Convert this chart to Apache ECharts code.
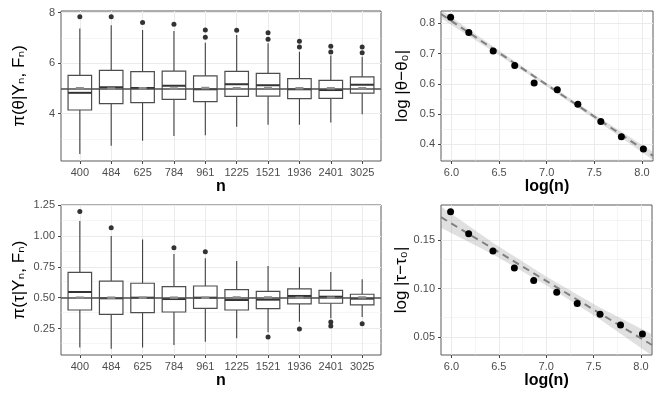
<!DOCTYPE html>
<html>
<head>
<meta charset="utf-8">
<script src="https://cdn.jsdelivr.net/npm/echarts@6/dist/echarts.min.js"></script>
<style>
  html, body { margin: 0; padding: 0; background: #fff; }
  #main { width: 664px; height: 399px; }
</style>
</head>
<body>
<div id="main"></div>
<script>
// sample sizes (categories) and log(n)
var nList = ['400', '484', '625', '784', '961', '1225', '1521', '1936', '2401', '3025'];
var catPos = [1, 2, 3, 4, 5, 6, 7, 8, 9, 10];
var logN = [5.991, 6.182, 6.438, 6.664, 6.868, 7.111, 7.327, 7.568, 7.784, 8.015];

// theta posterior boxplots
var thetaLow  = [2.40, 2.72, 2.92, 3.11, 3.14, 3.48, 3.56, 3.56, 3.64, 3.97];
var thetaQ1   = [4.14, 4.39, 4.43, 4.56, 4.47, 4.68, 4.69, 4.59, 4.60, 4.81];
var thetaMed  = [4.82, 5.04, 5.01, 5.10, 4.96, 5.16, 5.12, 4.96, 4.93, 5.14];
var thetaQ3   = [5.51, 5.71, 5.66, 5.68, 5.49, 5.67, 5.59, 5.38, 5.31, 5.45];
var thetaHigh = [7.37, 7.50, 7.31, 7.27, 6.80, 7.11, 6.78, 6.45, 6.30, 6.25];
var thetaMean = [5.00, 4.99, 5.00, 4.99, 5.01, 5.00, 5.01, 5.00, 5.00, 5.00];
var thetaOut  = [[1, 7.83], [2, 7.83], [3, 7.60], [4, 7.54], [5, 7.31], [5, 7.02], [6, 7.30],
                 [7, 7.20], [7, 6.94], [8, 6.86], [8, 6.63], [9, 6.66], [9, 6.44], [10, 6.63], [10, 6.41]];
var theta0 = 5;

// tau posterior boxplots
var tauLow  = [0.095, 0.086, 0.095, 0.116, 0.143, 0.170, 0.219, 0.305, 0.333, 0.343];
var tauQ1   = [0.400, 0.365, 0.378, 0.384, 0.414, 0.400, 0.411, 0.449, 0.455, 0.441];
var tauMed  = [0.546, 0.495, 0.500, 0.489, 0.500, 0.481, 0.484, 0.514, 0.508, 0.492];
var tauQ3   = [0.706, 0.635, 0.617, 0.589, 0.595, 0.565, 0.552, 0.571, 0.560, 0.528];
var tauHigh = [1.122, 1.000, 0.973, 0.854, 0.819, 0.798, 0.757, 0.746, 0.708, 0.649];
var tauMean = [0.500, 0.500, 0.500, 0.500, 0.500, 0.502, 0.502, 0.500, 0.500, 0.502];
var tauOut  = [[1, 1.200], [2, 1.068], [4, 0.905], [5, 0.873], [7, 0.181], [8, 0.246],
               [9, 0.303], [9, 0.271], [10, 0.289]];
var tau0 = 0.5;

// log |error| vs log(n)
var thetaErr = [0.820, 0.770, 0.709, 0.661, 0.603, 0.581, 0.533, 0.476, 0.425, 0.385];
var tauErr   = [0.1790, 0.1565, 0.1386, 0.1212, 0.1082, 0.0962, 0.0846, 0.0736, 0.0623, 0.0531];

// fitted lines + confidence bands
var fitX = [5.89, 8.116];
var thetaFit = [0.831, 0.362];
var tauFit = [0.1735, 0.0418];
var bandX = [5.89, 6.45, 7.0, 7.55, 8.116];
var thetaBandHi = [0.845, 0.721, 0.603, 0.489, 0.376];
var thetaBandLo = [0.817, 0.705, 0.591, 0.473, 0.348];
var tauBandHi = [0.1845, 0.1464, 0.1123, 0.0813, 0.0528];
var tauBandLo = [0.1625, 0.1344, 0.1033, 0.0693, 0.0308];

// tick labels
var thetaTicks = [4, 6, 8];
var thetaMinor = [3, 5, 7];
var tauTicks = [0.25, 0.5, 0.75, 1.0, 1.25];
var tauMinor = [0.125, 0.375, 0.625, 0.875, 1.125];
var logTicks = [6.0, 6.5, 7.0, 7.5, 8.0];
var logMinor = [6.25, 6.75, 7.25, 7.75];
var thetaErrTicks = [0.4, 0.5, 0.6, 0.7, 0.8];
var thetaErrMinor = [0.35, 0.45, 0.55, 0.65, 0.75];
var tauErrTicks = [0.05, 0.10, 0.15];
var tauErrMinor = [0.075, 0.125, 0.175];

var FONT = '"Liberation Sans", "DejaVu Sans", sans-serif';
var myChart = echarts.init(document.getElementById('main'), null, {renderer: 'canvas'});

function gridLines(xMajor, xMinor, yMajor, yMinor) {
    var d = [];
    xMinor.forEach(function (v) { d.push({xAxis: v, lineStyle: {width: 0.5}}); });
    yMinor.forEach(function (v) { d.push({yAxis: v, lineStyle: {width: 0.5}}); });
    xMajor.forEach(function (v) { d.push({xAxis: v, lineStyle: {width: 1}}); });
    yMajor.forEach(function (v) { d.push({yAxis: v, lineStyle: {width: 1}}); });
    return {
        silent: true, symbol: 'none', z: 1, animation: false,
        label: {show: false},
        lineStyle: {color: '#EBEBEB', type: 'solid'},
        data: d
    };
}

function xAxisOf(grid, min, max, ticks, fmt, name, gap, decimals) {
    return {
        type: 'value', gridIndex: grid, min: min, max: max,
        name: name, nameLocation: 'middle', nameGap: gap,
        nameTextStyle: {fontSize: 16, fontWeight: 'bold', color: '#000', fontFamily: FONT},
        axisLine: {show: false},
        axisTick: {show: true, length: 3, customValues: ticks, lineStyle: {color: '#444'}},
        axisLabel: {
            show: true, customValues: ticks, margin: 6, color: '#4D4D4D', fontSize: 11, fontFamily: FONT,
            formatter: fmt || function (v) { return v.toFixed(decimals); }
        },
        splitLine: {show: false}
    };
}

function yAxisOf(grid, min, max, ticks, decimals, name, gap) {
    return {
        type: 'value', gridIndex: grid, min: min, max: max,
        name: name, nameLocation: 'middle', nameGap: gap, nameRotate: 90,
        nameTextStyle: {fontSize: 17, color: '#000', fontFamily: FONT},
        axisLine: {show: false},
        axisTick: {show: true, length: 3, customValues: ticks, lineStyle: {color: '#444'}},
        axisLabel: {
            show: true, customValues: ticks, margin: 6, color: '#4D4D4D', fontSize: 11, fontFamily: FONT,
            formatter: function (v) { return decimals === 0 ? String(Math.round(v)) : v.toFixed(decimals); }
        },
        splitLine: {show: false}
    };
}

function boxData(low, q1, med, q3, high) {
    return catPos.map(function (x, i) { return [x, low[i], q1[i], med[i], q3[i], high[i]]; });
}

function renderBox(params, api) {
    var x = api.value(0);
    var pLow = api.coord([x, api.value(1)]);
    var pQ1 = api.coord([x, api.value(2)]);
    var pMed = api.coord([x, api.value(3)]);
    var pQ3 = api.coord([x, api.value(4)]);
    var pHigh = api.coord([x, api.value(5)]);
    var w = api.size([0.75, 0])[0];
    var cx = pMed[0];
    var st = {stroke: '#404040', lineWidth: 1.1};
    return {
        type: 'group',
        children: [
            {type: 'line', shape: {x1: cx, y1: pQ3[1], x2: cx, y2: pHigh[1]}, style: st},
            {type: 'line', shape: {x1: cx, y1: pQ1[1], x2: cx, y2: pLow[1]}, style: st},
            {type: 'rect', shape: {x: cx - w / 2, y: pQ3[1], width: w, height: pQ1[1] - pQ3[1]},
             style: {fill: '#fff', stroke: '#4D4D4D', lineWidth: 1.2}},
            {type: 'line', shape: {x1: cx - w / 2, y1: pMed[1], x2: cx + w / 2, y2: pMed[1]},
             style: {stroke: '#333', lineWidth: 2}}
        ]
    };
}

function bandRenderer(xs, hi, lo) {
    return function (params, api) {
        var pts = [];
        for (var i = 0; i < xs.length; i++) pts.push(api.coord([xs[i], hi[i]]));
        for (var j = xs.length - 1; j >= 0; j--) pts.push(api.coord([xs[j], lo[j]]));
        return {type: 'polygon', shape: {points: pts}, style: {fill: 'rgba(153,153,153,0.3)'}};
    };
}

function pairs(xs, ys) {
    return xs.map(function (x, i) { return [x, ys[i]]; });
}

var catFmt = function (v) { return nList[Math.round(v) - 1]; };
var gridStyle = {show: true, backgroundColor: '#fff', borderColor: '#5A5A5A', borderWidth: 1};

var option = {
    animation: false,
    textStyle: {fontFamily: FONT},
    grid: [
        Object.assign({left: 61, top: 11, width: 320, height: 150}, gridStyle),
        Object.assign({left: 441, top: 11, width: 212, height: 150}, gridStyle),
        Object.assign({left: 61, top: 205, width: 320, height: 150}, gridStyle),
        Object.assign({left: 441, top: 205, width: 211, height: 150}, gridStyle)
    ],
    xAxis: [
        xAxisOf(0, 0.4, 10.6, catPos, catFmt, 'n', 16),
        xAxisOf(1, 5.89, 8.116, logTicks, null, 'log(n)', 14, 1),
        xAxisOf(2, 0.4, 10.6, catPos, catFmt, 'n', 16),
        xAxisOf(3, 5.89, 8.116, logTicks, null, 'log(n)', 14, 1)
    ],
    yAxis: [
        yAxisOf(0, 2.12, 8.06, thetaTicks, 0, 'π(θ|Yₙ, Fₙ)', 33),
        yAxisOf(1, 0.345, 0.841, thetaErrTicks, 1, 'log |θ−θ₀|', 30),
        yAxisOf(2, 0.035, 1.252, tauTicks, 2, 'π(τ|Yₙ, Fₙ)', 33),
        yAxisOf(3, 0.0315, 0.186, tauErrTicks, 2, 'log |τ−τ₀|', 30)
    ],
    series: [
        // ---- theta boxplots ----
        {
            type: 'scatter', xAxisIndex: 0, yAxisIndex: 0, z: 3,
            symbolSize: 5, itemStyle: {color: '#333', opacity: 1},
            data: thetaOut,
            markLine: gridLines(catPos, [], thetaTicks, thetaMinor)
        },
        {
            type: 'custom', xAxisIndex: 0, yAxisIndex: 0, z: 2,
            renderItem: renderBox,
            data: boxData(thetaLow, thetaQ1, thetaMed, thetaQ3, thetaHigh)
        },
        {
            type: 'scatter', xAxisIndex: 0, yAxisIndex: 0, z: 4,
            symbol: 'rect', symbolSize: [8, 2.5], itemStyle: {color: '#8C8C8C', opacity: 1},
            data: pairs(catPos, thetaMean),
            markLine: {
                silent: true, symbol: 'none', z: 3, label: {show: false},
                lineStyle: {color: '#4D4D4D', width: 1.5, type: 'solid'},
                data: [{yAxis: theta0}]
            }
        },
        // ---- theta error vs log(n) ----
        {
            type: 'custom', xAxisIndex: 1, yAxisIndex: 1, z: 2, clip: true,
            renderItem: bandRenderer(bandX, thetaBandHi, thetaBandLo),
            data: [0]
        },
        {
            type: 'line', xAxisIndex: 1, yAxisIndex: 1, z: 3, symbol: 'none',
            lineStyle: {color: '#808080', width: 2, type: [7, 5]},
            data: pairs(fitX, thetaFit)
        },
        {
            type: 'scatter', xAxisIndex: 1, yAxisIndex: 1, z: 4,
            symbolSize: 7, itemStyle: {color: '#000', opacity: 1},
            data: pairs(logN, thetaErr),
            markLine: gridLines(logTicks, logMinor, thetaErrTicks, thetaErrMinor)
        },
        // ---- tau boxplots ----
        {
            type: 'scatter', xAxisIndex: 2, yAxisIndex: 2, z: 3,
            symbolSize: 5, itemStyle: {color: '#333', opacity: 1},
            data: tauOut,
            markLine: gridLines(catPos, [], tauTicks, tauMinor)
        },
        {
            type: 'custom', xAxisIndex: 2, yAxisIndex: 2, z: 2,
            renderItem: renderBox,
            data: boxData(tauLow, tauQ1, tauMed, tauQ3, tauHigh)
        },
        {
            type: 'scatter', xAxisIndex: 2, yAxisIndex: 2, z: 4,
            symbol: 'rect', symbolSize: [8, 2.5], itemStyle: {color: '#8C8C8C', opacity: 1},
            data: pairs(catPos, tauMean),
            markLine: {
                silent: true, symbol: 'none', z: 3, label: {show: false},
                lineStyle: {color: '#4D4D4D', width: 1.5, type: 'solid'},
                data: [{yAxis: tau0}]
            }
        },
        // ---- tau error vs log(n) ----
        {
            type: 'custom', xAxisIndex: 3, yAxisIndex: 3, z: 2, clip: true,
            renderItem: bandRenderer(bandX, tauBandHi, tauBandLo),
            data: [0]
        },
        {
            type: 'line', xAxisIndex: 3, yAxisIndex: 3, z: 3, symbol: 'none',
            lineStyle: {color: '#808080', width: 2, type: [7, 5]},
            data: pairs(fitX, tauFit)
        },
        {
            type: 'scatter', xAxisIndex: 3, yAxisIndex: 3, z: 4,
            symbolSize: 7, itemStyle: {color: '#000', opacity: 1},
            data: pairs(logN, tauErr),
            markLine: gridLines(logTicks, logMinor, tauErrTicks, tauErrMinor)
        }
    ]
};
myChart.setOption(option);
</script>
</body>
</html>
